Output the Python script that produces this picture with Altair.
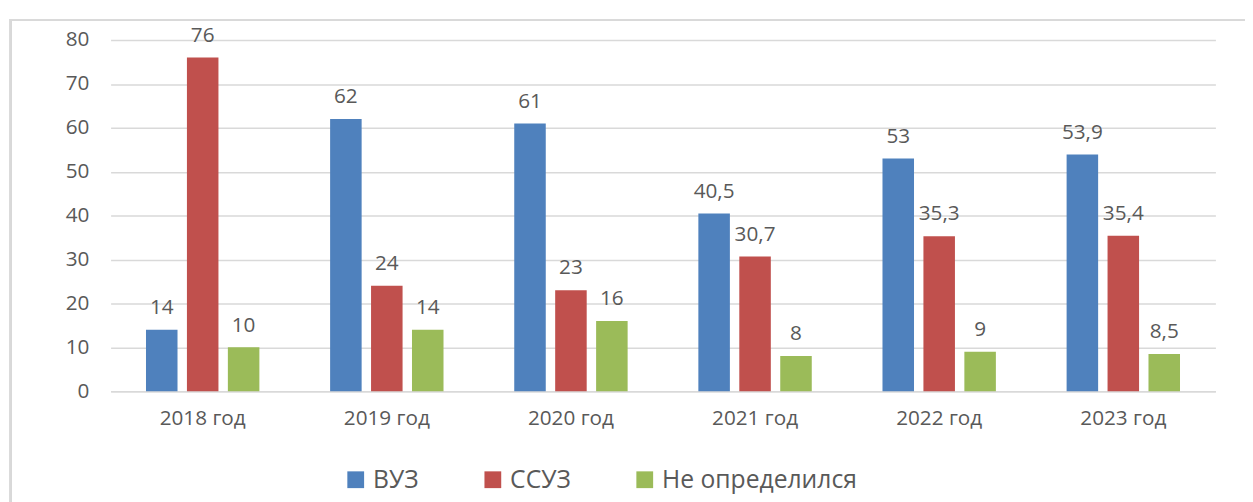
import altair as alt
import pandas as pd

years = ["2018 год", "2019 год", "2020 год", "2021 год", "2022 год", "2023 год"]
series = ["ВУЗ", "ССУЗ", "Не определился"]
vuz = [14, 62, 61, 40.5, 53, 53.9]
ssuz = [76, 24, 23, 30.7, 35.3, 35.4]
neopr = [10, 14, 16, 8, 9, 8.5]
colors = ["#4F81BD", "#C0504D", "#9BBB59"]

rows = []
for vals, s in zip([vuz, ssuz, neopr], series):
    for y, v in zip(years, vals):
        rows.append({"year": y, "series": s, "value": v,
                     "label": (f"{v:g}").replace(".", ",")})
df = pd.DataFrame(rows)

FONT = "Open Sans"
TXT = "#595959"

x = alt.X("year:N", sort=years, title=None,
          scale=alt.Scale(paddingInner=0.333, paddingOuter=0.1667),
          axis=alt.Axis(labelAngle=0, labelFontSize=21, labelColor=TXT, labelFont=FONT,
                        ticks=False, domainColor="#d9d9d9", domainWidth=1.5,
                        labelPadding=17))
xo = alt.XOffset("series:N", sort=series,
                 scale=alt.Scale(paddingInner=0.23, paddingOuter=0.115))
y = alt.Y("value:Q", title=None,
          scale=alt.Scale(domain=[0, 80], nice=False),
          axis=alt.Axis(values=list(range(0, 81, 10)), labelFontSize=21, labelColor=TXT,
                        labelFont=FONT, ticks=False, domain=False, gridColor="#d9d9d9",
                        gridWidth=1.5, labelPadding=22))

bars = alt.Chart(df).mark_bar().encode(
    x=x, xOffset=xo, y=y,
    color=alt.Color("series:N", sort=series,
                    scale=alt.Scale(domain=series, range=colors),
                    legend=alt.Legend(title=None, orient="none", direction="horizontal",
                                      legendX=236, legendY=433, symbolType="square",
                                      symbolSize=289, symbolStrokeWidth=0,
                                      labelFontSize=25, labelFont=FONT, labelColor=TXT,
                                      labelLimit=0, columnPadding=62, labelOffset=5,
                                      padding=0)),
)

labels = alt.Chart(df).mark_text(baseline="bottom", dy=-12, fontSize=21,
                                 font=FONT, color=TXT).encode(
    x=alt.X("year:N", sort=years), xOffset=alt.XOffset("series:N", sort=series),
    y="value:Q", text="label:N")

border = alt.Chart(df).mark_rect(fill=None, stroke="#d9d9d9", strokeWidth=1.5, clip=False).encode(
    x=alt.value(-101.5), x2=alt.value(1300), y=alt.value(-20), y2=alt.value(600))

chart = alt.layer(border, bars, labels).properties(
    width=1120, height=356,
    padding={"left": 104, "top": 29, "right": 30, "bottom": 120},
    autosize=alt.AutoSizeParams(type="none"),
).configure_view(stroke=None)

chart.save("out.html", embed_options={"renderer": "svg", "actions": False})
